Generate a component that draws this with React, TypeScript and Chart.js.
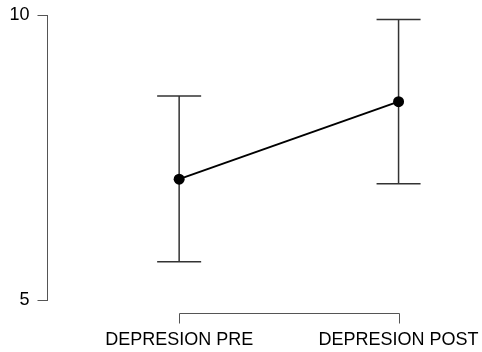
import React, { useEffect, useRef } from "react";
import { Chart, registerables } from "chart.js";

Chart.register(...registerables);

const categories = ["DEPRESION PRE", "DEPRESION POST"];
const xPositions = [1, 2];
const means = [7.12, 8.48];
const upper = [8.58, 9.92];
const lower = [5.67, 7.04];
const yTicks = [5, 10];

const FONT = "'Liberation Sans', Arial, sans-serif";

const errorBarPlugin = {
  id: "errorBars",
  beforeDatasetsDraw(chart: any) {
    const { ctx, scales } = chart;
    const xs = scales.x;
    const ys = scales.y;
    ctx.save();
    ctx.strokeStyle = "#333";
    ctx.lineWidth = 1.5;
    xPositions.forEach((xv, i) => {
      const x = xs.getPixelForValue(xv);
      const yt = ys.getPixelForValue(upper[i]);
      const yb = ys.getPixelForValue(lower[i]);
      const cap = 22;
      ctx.beginPath();
      ctx.moveTo(x, yt);
      ctx.lineTo(x, yb);
      ctx.moveTo(x - cap, yt);
      ctx.lineTo(x + cap, yt);
      ctx.moveTo(x - cap, yb);
      ctx.lineTo(x + cap, yb);
      ctx.stroke();
    });
    ctx.restore();
  },
  afterDraw(chart: any) {
    const { ctx, scales, chartArea } = chart;
    const xs = scales.x;
    const x1 = Math.round(xs.getPixelForValue(xPositions[0])) + 0.5;
    const x2 = Math.round(xs.getPixelForValue(xPositions[xPositions.length - 1])) + 0.5;
    const y = Math.round(chartArea.bottom + 13) + 0.5;
    ctx.save();
    ctx.strokeStyle = "#555";
    ctx.lineWidth = 1;
    ctx.beginPath();
    ctx.moveTo(x1, y + 10);
    ctx.lineTo(x1, y);
    ctx.lineTo(x2, y);
    ctx.lineTo(x2, y + 10);
    ctx.stroke();
    ctx.restore();
  },
};

export default function App() {
  const ref = useRef<HTMLCanvasElement | null>(null);
  useEffect(() => {
    if (!ref.current) return;
    const chart = new Chart(ref.current, {
      type: "line",
      data: {
        datasets: [
          {
            data: xPositions.map((x, i) => ({ x, y: means[i] })),
            borderColor: "#000",
            borderWidth: 2,
            pointRadius: 5.5,
            pointBackgroundColor: "#000",
            pointBorderColor: "#000",
            pointBorderWidth: 0,
          },
        ],
      },
      options: {
        responsive: false,
        animation: false,
        layout: { padding: { top: 15, right: 22, left: 0, bottom: 0 } },
        plugins: { legend: { display: false }, tooltip: { enabled: false } },
        scales: {
          x: {
            type: "linear",
            min: 0.4,
            max: 2.28,
            afterFit: (s: any) => {
              s.height = 52;
              s.paddingLeft = 0;
              s.paddingRight = 0;
            },
            afterBuildTicks: (s: any) => {
              s.ticks = xPositions.map((v) => ({ value: v }));
            },
            grid: { display: false, drawTicks: false },
            border: { display: false },
            ticks: {
              padding: 29,
              color: "#000",
              font: { family: FONT, size: 18 },
              maxRotation: 0,
              autoSkip: false,
              callback: (v: any) => {
                const i = xPositions.indexOf(Number(v));
                return i >= 0 ? categories[i] : "";
              },
            },
          },
          y: {
            type: "linear",
            min: yTicks[0],
            max: yTicks[yTicks.length - 1],
            afterFit: (s: any) => {
              s.width = 47.5;
              s.paddingTop = 0;
              s.paddingBottom = 0;
            },
            afterBuildTicks: (s: any) => {
              s.ticks = yTicks.map((v) => ({ value: v }));
            },
            grid: {
              drawOnChartArea: false,
              drawTicks: true,
              tickLength: 10,
              color: "#555",
            },
            border: { display: true, color: "#555", width: 1 },
            ticks: {
              padding: 8,
              color: "#000",
              font: { family: FONT, size: 18 },
            },
          },
        },
      },
      plugins: [errorBarPlugin],
    });
    return () => chart.destroy();
  }, []);
  return (
    <div style={{ position: "fixed", left: 0, top: 0, width: 482, height: 352, background: "#fff" }}>
      <canvas ref={ref} width={482} height={352} style={{ display: "block" }} />
    </div>
  );
}
